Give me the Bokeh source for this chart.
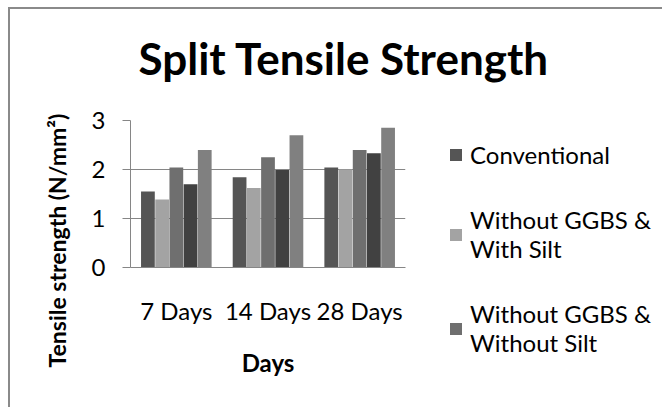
from bokeh.plotting import figure
from bokeh.models import (FactorRange, Range1d, Legend, LegendItem, Title,
                          ColumnDataSource, FixedTicker)
from bokeh.transform import dodge
from bokeh.embed import file_html
from bokeh.resources import INLINE

# ---- data ----
categories = ["7 Days", "14 Days", "28 Days"]
conventional = [1.55, 1.84, 2.04]
without_ggbs_with_silt = [1.39, 1.62, 2.00]
without_ggbs_without_silt = [2.04, 2.25, 2.40]
series_4 = [1.70, 1.99, 2.33]
series_5 = [2.40, 2.70, 2.85]
y_ticks = [0, 1, 2, 3]

title_text = "Split Tensile Strength"
x_label = "Days"
y_label = "Tensile strength (N/mm\u00b2)"
legend_labels = ["Conventional", "Without GGBS &\nWith Silt", "Without GGBS &\nWithout Silt"]

colors = ["#555555", "#a3a3a3", "#6f6f6f", "#414141", "#808080"]
FONT = "Lato"
GRID = "#868686"

source = ColumnDataSource(dict(days=categories, s1=conventional, s2=without_ggbs_with_silt,
                               s3=without_ggbs_without_silt, s4=series_4, s5=series_5))

p = figure(x_range=FactorRange(*categories), y_range=Range1d(0, 3),
           frame_width=275, frame_height=147,
           output_backend="svg", toolbar_location=None,
           min_border_left=120, min_border_right=257, min_border_top=111,
           min_border_bottom=140)
p.styles = {"margin-left": "8px", "margin-top": "7px",
            "border-top": "2px solid #8a8a8a", "border-left": "2px solid #8a8a8a"}
p.outline_line_color = None
p.background_fill_color = "white"
p.border_fill_color = "white"

bar_w = 0.15
step = 0.155
renderers = []
for i, key in enumerate(["s1", "s2", "s3", "s4", "s5"]):
    r = p.vbar(x=dodge("days", (i - 2) * step, range=p.x_range), top=key, width=bar_w,
               source=source, fill_color=colors[i], line_color=None)
    renderers.append(r)

# axes
p.xgrid.grid_line_color = None
p.ygrid.grid_line_color = GRID
p.ygrid.ticker = FixedTicker(ticks=y_ticks)
p.yaxis.ticker = FixedTicker(ticks=y_ticks)
p.yaxis.axis_line_color = GRID
p.yaxis.major_tick_line_color = GRID
p.yaxis.major_tick_out = 8
p.yaxis.major_tick_in = 0
p.yaxis.minor_tick_line_color = None
p.yaxis.major_label_text_font = FONT
p.yaxis.major_label_text_font_size = "24px"
p.yaxis.major_label_text_color = "black"
p.yaxis.major_label_standoff = 17

p.xaxis.axis_line_color = GRID
p.xaxis.major_tick_line_color = None
p.xaxis.minor_tick_line_color = None
p.xaxis.major_label_text_font = FONT
p.xaxis.major_label_text_font_size = "24px"
p.xaxis.major_label_text_color = "black"
p.xaxis.major_label_standoff = 22
p.xaxis.axis_label = x_label
p.xaxis.axis_label_text_font = FONT
p.xaxis.axis_label_text_font_style = "bold"
p.xaxis.axis_label_text_font_size = "24px"
p.xaxis.axis_label_text_color = "black"
p.xaxis.axis_label_standoff = 20

# spacer between frame and title (pushes the title up)
p.add_layout(Title(text=" ", text_font_size="20px", standoff=8), "above")

# title
p.title.text = title_text
p.title.align = "left"
p.title.offset = 8
p.title.standoff = 10
p.title.text_font = FONT
p.title.text_font_style = "bold"
p.title.text_font_size = "44px"
p.title.text_color = "black"

# y label as a side title, starting below the frame like the reference
ylab = Title(text=y_label, align="left", offset=-100, standoff=36,
             text_font=FONT, text_font_style="bold", text_font_size="23px",
             text_color="black")
p.add_layout(ylab, "left")

# legend in the right panel
legend = Legend(items=[LegendItem(label=lab, renderers=[r])
                       for lab, r in zip(legend_labels, renderers[:3])],
                location=(43, -90), glyph_width=15, glyph_height=15, label_standoff=7,
                label_text_font=FONT, label_text_font_size="24px",
                label_text_color="black", padding=0, margin=0, spacing=36,
                border_line_color=None, background_fill_alpha=0)
p.add_layout(legend, "right")

open("out.html", "w").write(file_html(p, INLINE))
